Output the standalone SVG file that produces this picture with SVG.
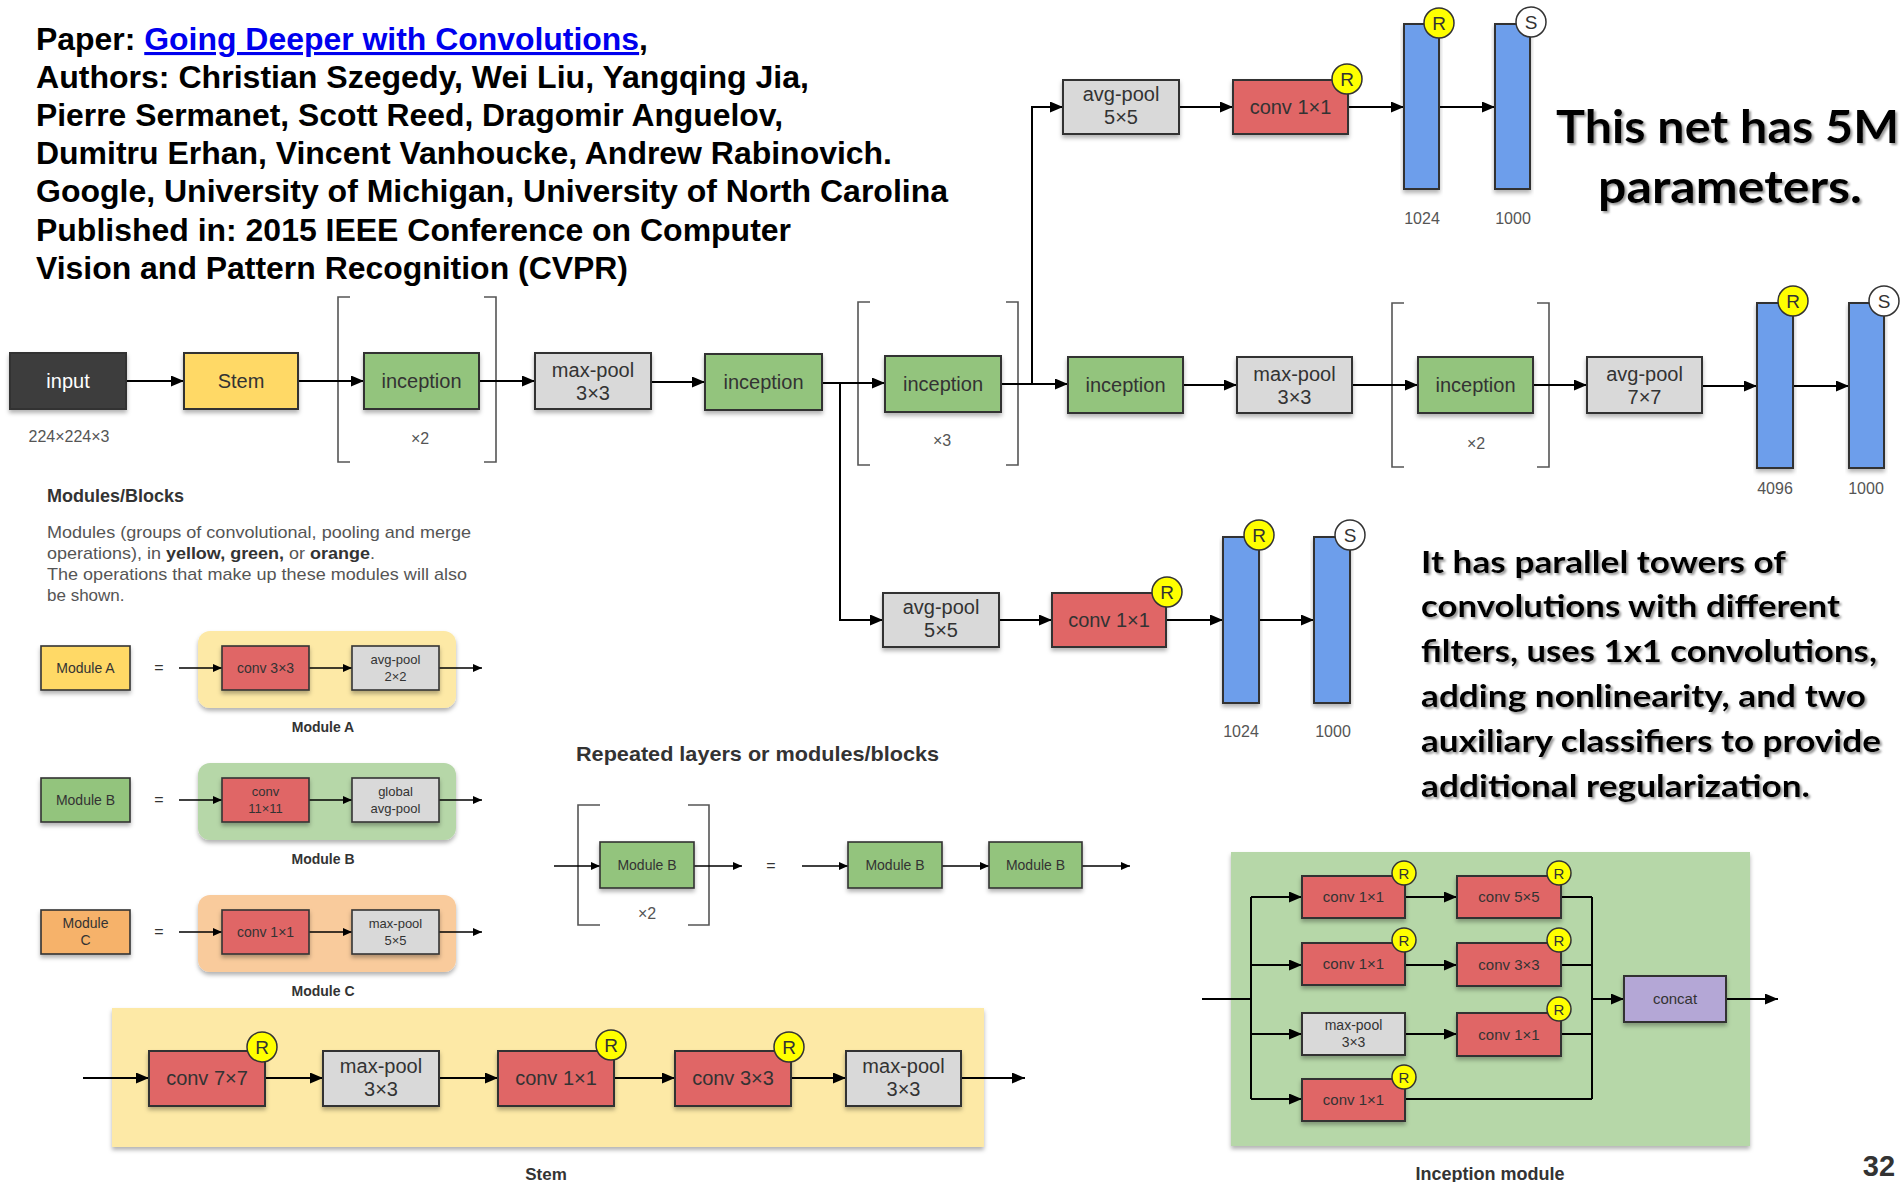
<svg xmlns="http://www.w3.org/2000/svg" width="1901" height="1182" viewBox="0 0 1901 1182">
<defs>
  <marker id="ah" markerWidth="13" markerHeight="11" refX="13" refY="5.5" orient="auto" markerUnits="userSpaceOnUse">
    <path d="M0,0 L13,5.5 L0,11 z" fill="#000"/>
  </marker>
  <marker id="ahs" markerWidth="9" markerHeight="8" refX="9" refY="4" orient="auto" markerUnits="userSpaceOnUse">
    <path d="M0,0 L9,4 L0,8 z" fill="#000"/>
  </marker>
  <filter id="sh" x="-10%" y="-10%" width="120%" height="140%">
    <feDropShadow dx="0" dy="3" stdDeviation="2" flood-color="#000" flood-opacity="0.3"/>
  </filter>
  <filter id="tsh" x="-5%" y="-20%" width="110%" height="150%">
    <feDropShadow dx="2" dy="2" stdDeviation="1.2" flood-color="#777" flood-opacity="0.75"/>
  </filter>
</defs>
<style>
  .bx { stroke:#333; stroke-width:2; filter:url(#sh); }
  .sb { stroke:#333; stroke-width:1.6; filter:url(#sh); }
  .grn { fill:#93c47d; } .gry { fill:#d9d9d9; } .red { fill:#e06666; }
  .yel { fill:#ffd966; } .org { fill:#f6b26b; } .blu { fill:#6d9eeb; }
  .pur { fill:#b4a7d6; } .blk { fill:#3d3d3d; }
  .t { font-family:"Liberation Sans", Arial, sans-serif; fill:#333; text-anchor:middle; }
  .t20 { font-size:20px; } .t15 { font-size:15px; } .t14 { font-size:14px; } .t13 { font-size:13px; }
  .lbl { font-family:"Liberation Sans", Arial, sans-serif; fill:#555; font-size:16px; text-anchor:middle; }
  .hd { font-family:"Liberation Sans", Arial, sans-serif; font-weight:bold; fill:#333; }
  .title { font-family:"Liberation Sans", Arial, sans-serif; font-weight:bold; font-size:31px; fill:#000; }
  .big { font-family:Lato, "Open Sans", sans-serif; font-weight:bold; fill:#000; filter:url(#tsh); }
  .rc { fill:#ffff00; stroke:#333; stroke-width:1.5; }
  .sc { fill:#fff; stroke:#333; stroke-width:1.5; }
  .ct { font-family:"Liberation Sans", Arial, sans-serif; fill:#333; text-anchor:middle; }
  .brk { fill:none; stroke:#555; stroke-width:1.6; }
  .panel { filter:url(#sh); }
  #connectors path { fill:none; stroke:#000; stroke-width:2; }
  #connectors .a { marker-end:url(#ah); }
  #connectors .as { stroke-width:1.3; marker-end:url(#ahs); }
</style>

<rect width="1901" height="1182" fill="#fff"/>

<!-- paper reference -->
<g id="paper-info">
  <text class="title" x="36" y="50" textLength="612" lengthAdjust="spacingAndGlyphs">Paper: <tspan fill="#0000ee" text-decoration="underline">Going Deeper with Convolutions</tspan>,</text>
  <text class="title" x="36" y="88" textLength="773" lengthAdjust="spacingAndGlyphs">Authors: Christian Szegedy, Wei Liu, Yangqing Jia,</text>
  <text class="title" x="36" y="126" textLength="747" lengthAdjust="spacingAndGlyphs">Pierre Sermanet, Scott Reed, Dragomir Anguelov,</text>
  <text class="title" x="36" y="164" textLength="856" lengthAdjust="spacingAndGlyphs">Dumitru Erhan, Vincent Vanhoucke, Andrew Rabinovich.</text>
  <text class="title" x="36" y="202" textLength="912" lengthAdjust="spacingAndGlyphs">Google, University of Michigan, University of North Carolina</text>
  <text class="title" x="36" y="241" textLength="755" lengthAdjust="spacingAndGlyphs">Published in: 2015 IEEE Conference on Computer</text>
  <text class="title" x="36" y="279" textLength="592" lengthAdjust="spacingAndGlyphs">Vision and Pattern Recognition (CVPR)</text>
</g>

<!-- comments on the right -->
<g id="notes">
  <text class="big" x="1556" y="143" font-size="46" textLength="343" lengthAdjust="spacingAndGlyphs">This net has 5M</text>
  <text class="big" x="1598" y="203" font-size="46" textLength="264" lengthAdjust="spacingAndGlyphs">parameters.</text>
  <text class="big" x="1421" y="573" font-size="31" textLength="365" lengthAdjust="spacingAndGlyphs">It has parallel towers of</text>
  <text class="big" x="1421" y="617" font-size="31" textLength="419" lengthAdjust="spacingAndGlyphs">convolutions with different</text>
  <text class="big" x="1421" y="662" font-size="31" textLength="456" lengthAdjust="spacingAndGlyphs">filters, uses 1x1 convolutions,</text>
  <text class="big" x="1421" y="707" font-size="31" textLength="445" lengthAdjust="spacingAndGlyphs">adding nonlinearity, and two</text>
  <text class="big" x="1421" y="752" font-size="31" textLength="460" lengthAdjust="spacingAndGlyphs">auxiliary classifiers to provide</text>
  <text class="big" x="1421" y="797" font-size="31" textLength="389" lengthAdjust="spacingAndGlyphs">additional regularization.</text>
  <text class="hd" x="1879" y="1176" font-size="29" text-anchor="middle" fill="#000">32</text>
</g>

<!-- repeat brackets -->
<g id="brackets">
  <path class="brk" d="M350,297 H338 V462 H350 M484,297 H496 V462 H484"/>
  <path class="brk" d="M870,302 H858 V465 H870 M1006,302 H1018 V465 H1006"/>
  <path class="brk" d="M1404,303 H1392 V467 H1404 M1537,303 H1549 V467 H1537"/>
  <path class="brk" d="M600,805 H578 V925 H600 M688,805 H709 V925 H688"/>
</g>

<!-- panels behind grouped operations -->
<g id="panels">
  <rect class="panel" x="198" y="631" width="258" height="77" rx="12" fill="#fde9a6"/>
  <rect class="panel" x="198" y="763" width="258" height="77" rx="12" fill="#b6d7a8"/>
  <rect class="panel" x="198" y="895" width="258" height="77" rx="12" fill="#f9cb9c"/>
  <rect class="panel" x="112" y="1008" width="872" height="139" fill="#fde9a6"/>
  <rect class="panel" x="1231" y="852" width="519" height="294" fill="#b6d7a8"/>
</g>

<g id="connectors">
  <!-- main row -->
  <path class="a" d="M126,381 H184"/>
  <path class="a" d="M298,381 H364"/>
  <path class="a" d="M479,381 H535"/>
  <path class="a" d="M651,382 H705"/>
  <path class="a" d="M822,383 H885"/>
  <path class="a" d="M1001,384 H1068"/>
  <path class="a" d="M1183,385 H1237"/>
  <path class="a" d="M1352,385 H1418"/>
  <path class="a" d="M1533,385 H1587"/>
  <path class="a" d="M1702,386 H1757"/>
  <path class="a" d="M1793,386 H1849"/>
  <!-- upper auxiliary branch -->
  <path class="a" d="M1032,384 V107 H1063"/>
  <path class="a" d="M1179,107 H1233"/>
  <path class="a" d="M1348,107 H1404"/>
  <path class="a" d="M1439,107 H1495"/>
  <!-- lower auxiliary branch -->
  <path class="a" d="M840,383 V620 H883"/>
  <path class="a" d="M999,620 H1052"/>
  <path class="a" d="M1166,620 H1223"/>
  <path class="a" d="M1259,620 H1314"/>
  <!-- module legend -->
  <path class="as" d="M179,668 H222"/>
  <path class="as" d="M309,668 H352"/>
  <path class="as" d="M439,668 H482"/>
  <path class="as" d="M179,800 H222"/>
  <path class="as" d="M309,800 H352"/>
  <path class="as" d="M439,800 H482"/>
  <path class="as" d="M179,932 H222"/>
  <path class="as" d="M309,932 H352"/>
  <path class="as" d="M439,932 H482"/>
  <!-- repeated legend -->
  <path class="as" d="M554,866 H600"/>
  <path class="as" d="M694,866 H742"/>
  <path class="as" d="M802,866 H848"/>
  <path class="as" d="M942,866 H989"/>
  <path class="as" d="M1082,866 H1130"/>
  <!-- stem -->
  <path class="a" d="M83,1078 H149"/>
  <path class="a" d="M265,1078 H323"/>
  <path class="a" d="M439,1078 H498"/>
  <path class="a" d="M614,1078 H675"/>
  <path class="a" d="M791,1078 H846"/>
  <path class="a" d="M961,1078 H1025"/>
  <!-- inception module -->
  <path d="M1202,999 H1251 M1251,897 V1099"/>
  <path class="a" d="M1251,897 H1302"/>
  <path class="a" d="M1251,965 H1302"/>
  <path class="a" d="M1251,1034 H1302"/>
  <path class="a" d="M1251,1099 H1302"/>
  <path class="a" d="M1405,897 H1457"/>
  <path class="a" d="M1405,965 H1457"/>
  <path class="a" d="M1405,1034 H1457"/>
  <path d="M1561,897 H1592 M1561,965 H1592 M1561,1034 H1592 M1405,1099 H1592 M1592,897 V1099"/>
  <path class="a" d="M1592,999 H1624"/>
  <path class="a" d="M1726,999 H1778"/>
</g>

<!-- main network -->
<g id="input">
  <rect class="bx blk" x="10" y="353" width="116" height="56" stroke="#222"/>
  <text class="t t20" x="68" y="388" style="fill:#fff">input</text>
  <text class="lbl" x="69" y="442">224×224×3</text>
</g>
<g id="stem">
  <rect class="bx yel" x="184" y="353" width="114" height="56"/>
  <text class="t t20" x="241" y="388">Stem</text>
</g>
<g id="inception-1">
  <rect class="bx grn" x="364" y="353" width="115" height="56"/>
  <text class="t t20" x="421.5" y="388">inception</text>
  <text class="lbl" x="420" y="444">×2</text>
</g>
<g id="maxpool-1">
  <rect class="bx gry" x="535" y="353" width="116" height="56"/>
  <text class="t t20" x="593" y="377">max-pool</text>
  <text class="t t20" x="593" y="400">3×3</text>
</g>
<g id="inception-2">
  <rect class="bx grn" x="705" y="354" width="117" height="56"/>
  <text class="t t20" x="763.5" y="389">inception</text>
</g>
<g id="inception-3">
  <rect class="bx grn" x="885" y="356" width="116" height="56"/>
  <text class="t t20" x="943" y="391">inception</text>
  <text class="lbl" x="942" y="446">×3</text>
</g>
<g id="inception-4">
  <rect class="bx grn" x="1068" y="357" width="115" height="56"/>
  <text class="t t20" x="1125.5" y="392">inception</text>
</g>
<g id="maxpool-2">
  <rect class="bx gry" x="1237" y="357" width="115" height="56"/>
  <text class="t t20" x="1294.5" y="381">max-pool</text>
  <text class="t t20" x="1294.5" y="404">3×3</text>
</g>
<g id="inception-5">
  <rect class="bx grn" x="1418" y="357" width="115" height="56"/>
  <text class="t t20" x="1475.5" y="392">inception</text>
  <text class="lbl" x="1476" y="449">×2</text>
</g>
<g id="avgpool-7">
  <rect class="bx gry" x="1587" y="357" width="115" height="56"/>
  <text class="t t20" x="1644.5" y="381">avg-pool</text>
  <text class="t t20" x="1644.5" y="404">7×7</text>
</g>
<g id="fc-4096">
  <rect class="bx blu" x="1757" y="303" width="36" height="165"/>
  <circle class="rc" cx="1793" cy="301" r="15"/>
  <text class="ct" x="1793" y="308" font-size="19">R</text>
  <text class="lbl" x="1775" y="494">4096</text>
</g>
<g id="fc-1000">
  <rect class="bx blu" x="1849" y="303" width="35" height="165"/>
  <circle class="sc" cx="1884" cy="301" r="15"/>
  <text class="ct" x="1884" y="308" font-size="19">S</text>
  <text class="lbl" x="1866" y="494">1000</text>
</g>

<!-- upper auxiliary classifier -->
<g id="aux1-avgpool">
  <rect class="bx gry" x="1063" y="80" width="116" height="54"/>
  <text class="t t20" x="1121" y="101">avg-pool</text>
  <text class="t t20" x="1121" y="124">5×5</text>
</g>
<g id="aux1-conv">
  <rect class="bx red" x="1233" y="80" width="115" height="54"/>
  <text class="t t20" x="1290.5" y="114">conv 1×1</text>
  <circle class="rc" cx="1347" cy="79" r="15"/>
  <text class="ct" x="1347" y="86" font-size="19">R</text>
</g>
<g id="aux1-fc-1024">
  <rect class="bx blu" x="1404" y="24" width="35" height="165"/>
  <circle class="rc" cx="1439" cy="23" r="15"/>
  <text class="ct" x="1439" y="30" font-size="19">R</text>
  <text class="lbl" x="1422" y="224">1024</text>
</g>
<g id="aux1-fc-1000">
  <rect class="bx blu" x="1495" y="24" width="35" height="165"/>
  <circle class="sc" cx="1531" cy="22" r="15"/>
  <text class="ct" x="1531" y="29" font-size="19">S</text>
  <text class="lbl" x="1513" y="224">1000</text>
</g>

<!-- lower auxiliary classifier -->
<g id="aux2-avgpool">
  <rect class="bx gry" x="883" y="593" width="116" height="54"/>
  <text class="t t20" x="941" y="614">avg-pool</text>
  <text class="t t20" x="941" y="637">5×5</text>
</g>
<g id="aux2-conv">
  <rect class="bx red" x="1052" y="593" width="114" height="54"/>
  <text class="t t20" x="1109" y="627">conv 1×1</text>
  <circle class="rc" cx="1167" cy="592" r="15"/>
  <text class="ct" x="1167" y="599" font-size="19">R</text>
</g>
<g id="aux2-fc-1024">
  <rect class="bx blu" x="1223" y="537" width="36" height="166"/>
  <circle class="rc" cx="1259" cy="535" r="15"/>
  <text class="ct" x="1259" y="542" font-size="19">R</text>
  <text class="lbl" x="1241" y="737">1024</text>
</g>
<g id="aux2-fc-1000">
  <rect class="bx blu" x="1314" y="537" width="36" height="166"/>
  <circle class="sc" cx="1350" cy="535" r="15"/>
  <text class="ct" x="1350" y="542" font-size="19">S</text>
  <text class="lbl" x="1333" y="737">1000</text>
</g>

<!-- modules / blocks legend -->
<g id="legend-text">
  <text class="hd" x="47" y="502" font-size="18">Modules/Blocks</text>
  <g font-family="Liberation Sans, Arial, sans-serif" font-size="17" fill="#555">
    <text x="47" y="538" textLength="424" lengthAdjust="spacingAndGlyphs">Modules (groups of convolutional, pooling and merge</text>
    <text x="47" y="559" textLength="328" lengthAdjust="spacingAndGlyphs">operations), in <tspan font-weight="bold" fill="#333">yellow, green,</tspan> or <tspan font-weight="bold" fill="#333">orange</tspan>.</text>
    <text x="47" y="580" textLength="420" lengthAdjust="spacingAndGlyphs">The operations that make up these modules will also</text>
    <text x="47" y="601">be shown.</text>
  </g>
</g>
<g id="module-a">
  <rect class="sb yel" x="41" y="646" width="89" height="44"/>
  <text class="t t14" x="85.5" y="673">Module A</text>
  <text class="t" x="159" y="673" font-size="16">=</text>
  <rect class="sb red" x="222" y="646" width="87" height="44"/>
  <text class="t t14" x="265.5" y="673">conv 3×3</text>
  <rect class="sb gry" x="352" y="646" width="87" height="44"/>
  <text class="t t13" x="395.5" y="664">avg-pool</text>
  <text class="t t13" x="395.5" y="681">2×2</text>
  <text class="hd" x="323" y="732" font-size="14" text-anchor="middle">Module A</text>
</g>
<g id="module-b">
  <rect class="sb grn" x="41" y="778" width="89" height="44"/>
  <text class="t t14" x="85.5" y="805">Module B</text>
  <text class="t" x="159" y="805" font-size="16">=</text>
  <rect class="sb red" x="222" y="778" width="87" height="44"/>
  <text class="t t13" x="265.5" y="796">conv</text>
  <text class="t t13" x="265.5" y="813">11×11</text>
  <rect class="sb gry" x="352" y="778" width="87" height="44"/>
  <text class="t t13" x="395.5" y="796">global</text>
  <text class="t t13" x="395.5" y="813">avg-pool</text>
  <text class="hd" x="323" y="864" font-size="14" text-anchor="middle">Module B</text>
</g>
<g id="module-c">
  <rect class="sb org" x="41" y="910" width="89" height="44"/>
  <text class="t t14" x="85.5" y="928">Module</text>
  <text class="t t14" x="85.5" y="945">C</text>
  <text class="t" x="159" y="937" font-size="16">=</text>
  <rect class="sb red" x="222" y="910" width="87" height="44"/>
  <text class="t t14" x="265.5" y="937">conv 1×1</text>
  <rect class="sb gry" x="352" y="910" width="87" height="44"/>
  <text class="t t13" x="395.5" y="928">max-pool</text>
  <text class="t t13" x="395.5" y="945">5×5</text>
  <text class="hd" x="323" y="996" font-size="14" text-anchor="middle">Module C</text>
</g>

<!-- repeated layers legend -->
<g id="repeat-legend">
  <text class="hd" x="576" y="761" font-size="21" fill="#444" textLength="363" lengthAdjust="spacingAndGlyphs">Repeated layers or modules/blocks</text>
  <rect class="sb grn" x="600" y="842" width="94" height="46"/>
  <text class="t t14" x="647" y="870">Module B</text>
  <text class="lbl" x="647" y="919">×2</text>
  <text class="t" x="771" y="871" font-size="16">=</text>
  <rect class="sb grn" x="848" y="842" width="94" height="46"/>
  <text class="t t14" x="895" y="870">Module B</text>
  <rect class="sb grn" x="989" y="842" width="93" height="46"/>
  <text class="t t14" x="1035.5" y="870">Module B</text>
</g>

<!-- stem detail -->
<g id="stem-conv7">
  <rect class="bx red" x="149" y="1051" width="116" height="55"/>
  <text class="t t20" x="207" y="1085">conv 7×7</text>
  <circle class="rc" cx="262" cy="1047" r="15"/>
  <text class="ct" x="262" y="1054" font-size="19">R</text>
</g>
<g id="stem-maxpool-1">
  <rect class="bx gry" x="323" y="1051" width="116" height="55"/>
  <text class="t t20" x="381" y="1073">max-pool</text>
  <text class="t t20" x="381" y="1096">3×3</text>
</g>
<g id="stem-conv1">
  <rect class="bx red" x="498" y="1051" width="116" height="55"/>
  <text class="t t20" x="556" y="1085">conv 1×1</text>
  <circle class="rc" cx="611" cy="1045" r="15"/>
  <text class="ct" x="611" y="1052" font-size="19">R</text>
</g>
<g id="stem-conv3">
  <rect class="bx red" x="675" y="1051" width="116" height="55"/>
  <text class="t t20" x="733" y="1085">conv 3×3</text>
  <circle class="rc" cx="789" cy="1047" r="15"/>
  <text class="ct" x="789" y="1054" font-size="19">R</text>
</g>
<g id="stem-maxpool-2">
  <rect class="bx gry" x="846" y="1051" width="115" height="55"/>
  <text class="t t20" x="903.5" y="1073">max-pool</text>
  <text class="t t20" x="903.5" y="1096">3×3</text>
</g>
<text class="hd" x="546" y="1180" font-size="17" text-anchor="middle">Stem</text>

<!-- inception module detail -->
<g id="inc-conv1-a">
  <rect class="bx red" x="1302" y="876" width="103" height="42"/>
  <text class="t t15" x="1353.5" y="902">conv 1×1</text>
  <circle class="rc" cx="1404" cy="873" r="12"/>
  <text class="ct" x="1404" y="879" font-size="15">R</text>
</g>
<g id="inc-conv5">
  <rect class="bx red" x="1457" y="876" width="104" height="42"/>
  <text class="t t15" x="1509" y="902">conv 5×5</text>
  <circle class="rc" cx="1559" cy="873" r="12"/>
  <text class="ct" x="1559" y="879" font-size="15">R</text>
</g>
<g id="inc-conv1-b">
  <rect class="bx red" x="1302" y="943" width="103" height="42"/>
  <text class="t t15" x="1353.5" y="969">conv 1×1</text>
  <circle class="rc" cx="1404" cy="940" r="12"/>
  <text class="ct" x="1404" y="946" font-size="15">R</text>
</g>
<g id="inc-conv3">
  <rect class="bx red" x="1457" y="943" width="104" height="43"/>
  <text class="t t15" x="1509" y="970">conv 3×3</text>
  <circle class="rc" cx="1559" cy="940" r="12"/>
  <text class="ct" x="1559" y="946" font-size="15">R</text>
</g>
<g id="inc-maxpool">
  <rect class="bx gry" x="1302" y="1013" width="103" height="42"/>
  <text class="t t14" x="1353.5" y="1030">max-pool</text>
  <text class="t t14" x="1353.5" y="1047">3×3</text>
</g>
<g id="inc-conv1-c">
  <rect class="bx red" x="1457" y="1013" width="104" height="43"/>
  <text class="t t15" x="1509" y="1040">conv 1×1</text>
  <circle class="rc" cx="1559" cy="1009" r="12"/>
  <text class="ct" x="1559" y="1015" font-size="15">R</text>
</g>
<g id="inc-conv1-d">
  <rect class="bx red" x="1302" y="1079" width="103" height="42"/>
  <text class="t t15" x="1353.5" y="1105">conv 1×1</text>
  <circle class="rc" cx="1404" cy="1077" r="12"/>
  <text class="ct" x="1404" y="1083" font-size="15">R</text>
</g>
<g id="inc-concat">
  <rect class="bx pur" x="1624" y="976" width="102" height="46"/>
  <text class="t t15" x="1675" y="1004">concat</text>
</g>
<text class="hd" x="1490" y="1180" font-size="18" text-anchor="middle">Inception module</text>
</svg>
